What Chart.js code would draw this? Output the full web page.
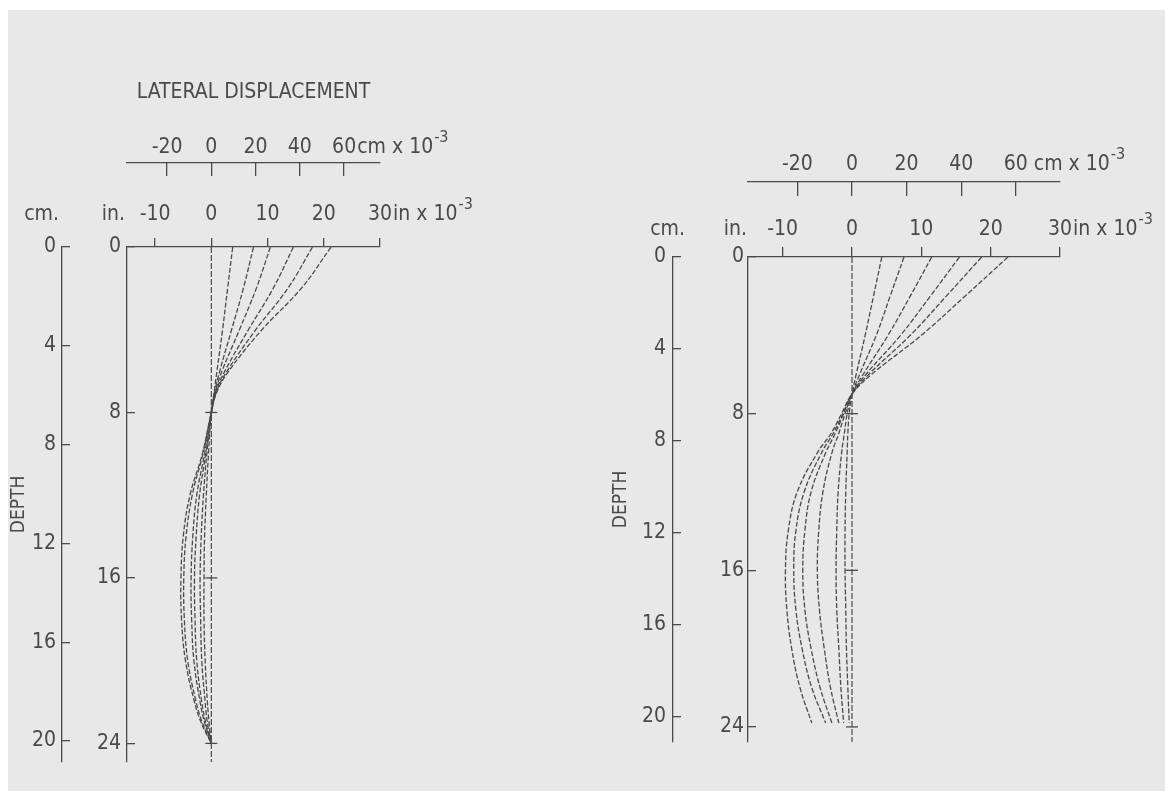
<!DOCTYPE html>
<html>
<head>
<meta charset="utf-8">
<title>Lateral displacement with depth</title>
<script src="https://cdn.jsdelivr.net/npm/chart.js@4.4.1/dist/chart.umd.min.js"></script>
<style>
  html, body { margin: 0; padding: 0; background: #fff; }
  #sheet { position: absolute; left: 8px; top: 10px; width: 1157px; height: 781px; background: #e8e8e8; }
  canvas { position: absolute; top: 0; }
</style>
</head>
<body>
<div id="sheet"></div>
<canvas id="leftChart" width="560" height="791" style="left:0"></canvas>
<canvas id="rightChart" width="605" height="791" style="left:560px"></canvas>
<script>
// tick labels
const inTicks = [-10, 0, 10, 20, 30];          // in x 10^-3
const cmTicks = [-20, 0, 20, 40, 60];          // cm x 10^-3
const depthInTicks = [0, 8, 16, 24];
const depthCmTicks = [0, 4, 8, 12, 16, 20];
const zeroLineTicks = [8, 16, 24];

// left figure: depth (in) and lateral displacement (in x 10^-3) for each run
const depthLeft = [0, 2, 4, 6, 7, 8, 10, 12, 14, 16, 18, 20, 22, 23, 24];
const leftRun1 = [3.8, 2.9, 2.0, 1.0, 0.5, 0.0, -0.5, -0.9, -1.2, -1.3, -1.3, -1.1, -0.7, -0.4, 0.0];
const leftRun2 = [7.5, 5.7, 3.6, 1.5, 0.6, 0.0, -0.8, -1.4, -1.8, -2.0, -1.9, -1.7, -1.1, -0.7, 0.0];
const leftRun3 = [10.5, 8.0, 5.0, 1.9, 0.7, 0.0, -1.0, -2.1, -2.7, -3.0, -2.9, -2.6, -1.7, -1.0, 0.0];
const leftRun4 = [14.6, 11.0, 6.6, 2.4, 0.8, 0.0, -1.2, -2.6, -3.3, -3.6, -3.5, -3.1, -2.0, -1.2, 0.0];
const leftRun5 = [18.0, 13.6, 7.9, 2.8, 0.9, 0.0, -1.5, -3.4, -4.5, -4.9, -4.8, -4.2, -2.7, -1.6, 0.0];
const leftRun6 = [21.3, 16.0, 9.0, 3.1, 1.0, 0.0, -1.6, -3.8, -5.0, -5.4, -5.3, -4.6, -3.0, -1.8, 0.0];

// right figure
const depthRight = [0, 2, 4, 6, 7, 8, 9, 10, 12, 14, 16, 18, 20, 22, 23.8];
const rightRun1 = [4.3, 3.1, 1.9, 0.6, 0.0, -0.4, -0.6, -0.7, -0.9, -1.0, -1.0, -0.9, -0.8, -0.6, -0.4];
const rightRun2 = [7.5, 5.5, 3.5, 1.1, 0.0, -0.7, -1.1, -1.5, -2.0, -2.2, -2.3, -2.2, -1.9, -1.6, -1.2];
const rightRun3 = [11.5, 8.4, 5.2, 1.6, 0.0, -1.0, -1.9, -2.9, -4.2, -4.8, -5.0, -4.7, -4.0, -3.1, -1.9];
const rightRun4 = [15.5, 11.3, 7.0, 2.0, 0.0, -1.2, -2.4, -3.8, -5.9, -6.8, -7.1, -6.8, -5.9, -4.6, -2.9];
const rightRun5 = [18.7, 13.6, 8.4, 2.4, 0.0, -1.3, -2.7, -4.4, -6.9, -8.1, -8.4, -8.1, -7.2, -5.8, -3.8];
const rightRun6 = [22.5, 16.3, 10.0, 2.8, 0.0, -1.5, -3.0, -5.0, -7.9, -9.2, -9.6, -9.4, -8.7, -7.5, -5.8];

const ink = "#4a4a4a";
const fontFamily = "'Liberation Sans Narrow', 'DejaVu Sans Condensed', 'Liberation Sans', sans-serif";
const tickSize = 21;
const IN_TO_CM = 2.54;

function setTicks(values) {
    return scale => { scale.ticks = values.map(v => ({ value: v })); };
}

// draws the unit labels after the last tick and the cm./in. headers
const unitLabels = {
    id: "unitLabels",
    afterDraw(chart, args, opts) {
        const { ctx, scales } = chart;
        const font = size => size + "px " + fontFamily;
        const rowY = s => s.bottom - s.options.grid.tickLength - s.options.ticks.padding - tickSize * 0.6;
        ctx.save();
        ctx.fillStyle = ink;
        ctx.textBaseline = "middle";
        [["xcm", cmTicks, opts.cmUnit], ["x", inTicks, opts.inUnit]].forEach(([id, ticks, u]) => {
            const s = scales[id];
            const last = ticks[ticks.length - 1];
            const y = rowY(s);
            ctx.font = font(tickSize);
            ctx.textAlign = "left";
            let x = s.getPixelForValue(last) + ctx.measureText(String(last)).width / 2 + u.gap;
            ctx.fillText(u.text, x, y);
            x += ctx.measureText(u.text).width + 1;
            ctx.font = font(Math.round(tickSize * 0.75));
            ctx.fillText("-3", x, y - tickSize * 0.45);
        });
        const y = rowY(scales.x);
        ctx.font = font(tickSize);
        ctx.textAlign = "right";
        ctx.fillText("cm.", scales.ycm.right + opts.cmHeadDx, y);
        ctx.fillText("in.", scales.y.right + opts.inHeadDx, y);
        ctx.restore();
    }
};

function buildDatasets(depths, runs, depthMax) {
    const sets = runs.map(xs => ({
        data: xs.map((x, i) => ({ x: x, y: depths[i] })),
        showLine: true,
        borderColor: ink,
        borderWidth: 1.3,
        borderDash: [5, 2],
        pointRadius: 0,
        tension: 0.4
    }));
    // vertical zero line with its small depth marks
    const zero = [0].concat(zeroLineTicks, [depthMax]);
    sets.push({
        data: zero.map(d => ({ x: 0, y: d })),
        showLine: true,
        borderColor: ink,
        borderWidth: 1.2,
        borderDash: [6, 2],
        pointStyle: "line",
        pointRadius: zero.map(d => zeroLineTicks.includes(d) ? 6 : 0),
        pointBorderColor: ink,
        pointBorderWidth: 1.3
    });
    return sets;
}

function axisLook(tickLength, padding) {
    return {
        grid: { drawOnChartArea: false, tickLength: tickLength, color: ink, lineWidth: 1.3 },
        border: { color: ink, width: 1.3, dash: [6, 2] },
        ticks: {
            padding: padding, color: ink, autoSkip: false, maxRotation: 0,
            font: { family: fontFamily, size: tickSize }
        }
    };
}

function makeChart(id, o) {
    const xin = axisLook(o.xinTick, o.xinPad);
    const xcm = axisLook(-o.xcmTick, o.xcmPad);
    const yin = axisLook(-8, o.yinPad);
    const ycm = axisLook(-8, o.ycmPad);
    return new Chart(document.getElementById(id), {
        type: "scatter",
        data: { datasets: buildDatasets(o.depths, o.runs, o.depthMax) },
        options: {
            responsive: false,
            animation: false,
            devicePixelRatio: 1,
            layout: { padding: o.padding },
            plugins: {
                legend: { display: false },
                tooltip: { enabled: false },
                unitLabels: o.labels
            },
            scales: {
                x: Object.assign(xin, {
                    type: "linear", position: "top", min: -15, max: 30, weight: 0,
                    afterBuildTicks: setTicks(inTicks),
                    afterFit: s => { s.height = o.xinHeight; }
                }),
                xcm: Object.assign(xcm, {
                    type: "linear", position: "top", min: -15 * IN_TO_CM, max: 30 * IN_TO_CM, weight: 1,
                    afterBuildTicks: setTicks(cmTicks),
                    afterFit: s => { s.height = o.xcmHeight; },
                    title: {
                        display: !!o.title, text: o.title || "", color: ink,
                        font: { family: fontFamily, size: 21 }, padding: { top: 27, bottom: 0 }
                    }
                }),
                y: Object.assign(yin, {
                    type: "linear", position: "left", reverse: true, min: 0, max: o.depthMax, weight: 0,
                    afterBuildTicks: setTicks(depthInTicks),
                    afterFit: s => { s.width = o.yinWidth; }
                }),
                ycm: Object.assign(ycm, {
                    type: "linear", position: "left", reverse: true, min: 0, max: o.cmMax, weight: 1,
                    afterBuildTicks: setTicks(depthCmTicks),
                    afterFit: s => { s.width = o.ycmWidth; },
                    title: {
                        display: true, text: "DEPTH", color: ink,
                        font: { family: fontFamily, size: 19 }, padding: { top: 3, bottom: 4 }
                    }
                })
            }
        },
        plugins: [unitLabels]
    });
}

makeChart("leftChart", {
    depths: depthLeft,
    runs: [leftRun1, leftRun2, leftRun3, leftRun4, leftRun5, leftRun6],
    depthMax: 24.9,
    cmMax: 20.85,
    title: "LATERAL DISPLACEMENT",
    padding: { left: 5, right: 180, top: 53, bottom: 29 },
    xinHeight: 84, xinTick: 9, xinPad: 11,
    xcmHeight: 110, xcmTick: 13, xcmPad: 16,
    yinWidth: 65, yinPad: 14,
    ycmWidth: 57, ycmPad: 14,
    labels: {
        cmUnit: { text: "cm x 10", gap: 1 },
        inUnit: { text: "in x 10", gap: 1 },
        cmHeadDx: -3, inHeadDx: -2
    }
});

makeChart("rightChart", {
    depths: depthRight,
    runs: [rightRun1, rightRun2, rightRun3, rightRun4, rightRun5, rightRun6],
    depthMax: 24.77,
    cmMax: 21.1,
    title: "",
    padding: { left: 47, right: 105, top: 122, bottom: 49 },
    xinHeight: 75, xinTick: 10, xinPad: 5,
    xcmHeight: 60, xcmTick: 14, xcmPad: 19,
    yinWidth: 75, yinPad: 12,
    ycmWidth: 66, ycmPad: 15,
    labels: {
        cmUnit: { text: "cm x 10", gap: 6 },
        inUnit: { text: "in x 10", gap: 1 },
        cmHeadDx: 12, inHeadDx: -1
    }
});
</script>
</body>
</html>
